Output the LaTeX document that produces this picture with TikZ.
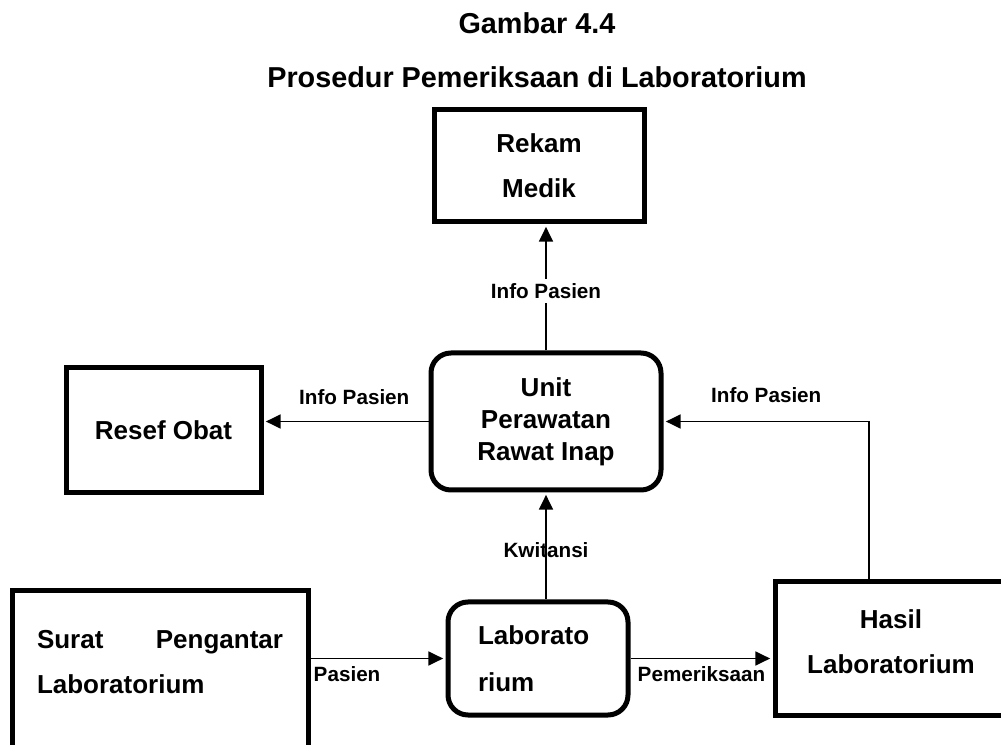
\documentclass[tikz,border=0pt]{standalone}
\usepackage{fontspec}
\setmainfont{Liberation Sans}
\usetikzlibrary{arrows.meta,positioning}

\begin{document}
\begin{tikzpicture}[x=0.75pt, y=-0.75pt,
    boxtxt/.style={font=\bfseries\fontsize{19.5}{33.75}\selectfont},
    box/.style={boxtxt, draw, line width=3.75pt, inner sep=0pt, align=center},
    rbox/.style={box, rounded corners=15pt},
    flow/.style={-{Triangle[length=11pt,width=10.5pt]}, line width=1.2pt, shorten >=1.8pt},
    lbl/.style={font=\bfseries\fontsize{15.5}{18}\selectfont},
    ttl/.style={font=\bfseries\fontsize{21.6}{26}\selectfont}]
    \useasboundingbox (0,0) rectangle (1001,745);

    % Title
    \node[ttl] (title1) at (537,23) {Gambar 4.4};
    \node[ttl] (title2) at (537,77) {Prosedur Pemeriksaan di Laboratorium};

    % Boxes
    \node[box, minimum width=157.5pt, minimum height=84pt] (rekam) at (539,166) {Rekam\\Medik};
    \node[rbox, minimum width=172.5pt, minimum height=102.75pt,
          font=\bfseries\fontsize{19.5}{24}\selectfont] (unit) at (546,421.5) {Unit\\Perawatan\\Rawat Inap};
    \node[box, minimum width=146.25pt, minimum height=93.75pt] (resef) at (163.5,430.5) {Resef Obat};
    \node[rbox, minimum width=135pt, minimum height=84.75pt, align=left, text width=90pt,
          font=\bfseries\fontsize{19.5}{35}\selectfont] (lab) at (538,658.5) {Laborato\\rium};
    \node[box, minimum width=222pt, minimum height=126.75pt] (surat) at (160,675.5) {};
    \node[boxtxt, align=left, text width=184.5pt] (surattxt) at (160,662.5) {Surat\hfill Pengantar\\Laboratorium};
    \node[box, minimum width=174.75pt, minimum height=99.75pt] (hasil) at (891.5,648.5) {};
    \node[boxtxt, align=center] (hasiltxt) at (891,641.5) {Hasil\\Laboratorium};

    % Arrows
    \draw[flow] (unit.north) -- node[lbl, fill=white, pos=0.47] (lblrekam) {Info Pasien} (unit.north |- rekam.south);
    \draw[flow] (unit.west) -- node[lbl, above=9pt, pos=0.45] (lblresef) {Info Pasien} (unit.west -| resef.east);
    \draw[flow] (lab.north -| unit) -- node[lbl, pos=0.46] (lblkw) {Kwitansi} (unit.south);
    \coordinate (bend) at (869,421.5);
    \draw[flow] (hasil.north -| bend) -- (bend) -- node[lbl, above=10pt] (lblhasil) {Info Pasien} (unit.east);
    \draw[flow] (surat.east |- lab.west) -- node[lbl, pos=0, anchor=north west, xshift=-1.5pt, yshift=-2pt] (lblpasien) {Pasien} (lab.west);
    \draw[flow] (lab.east) -- node[lbl, below=2pt] (lblpem) {Pemeriksaan} (hasil.west |- lab.east);
\end{tikzpicture}
\end{document}
